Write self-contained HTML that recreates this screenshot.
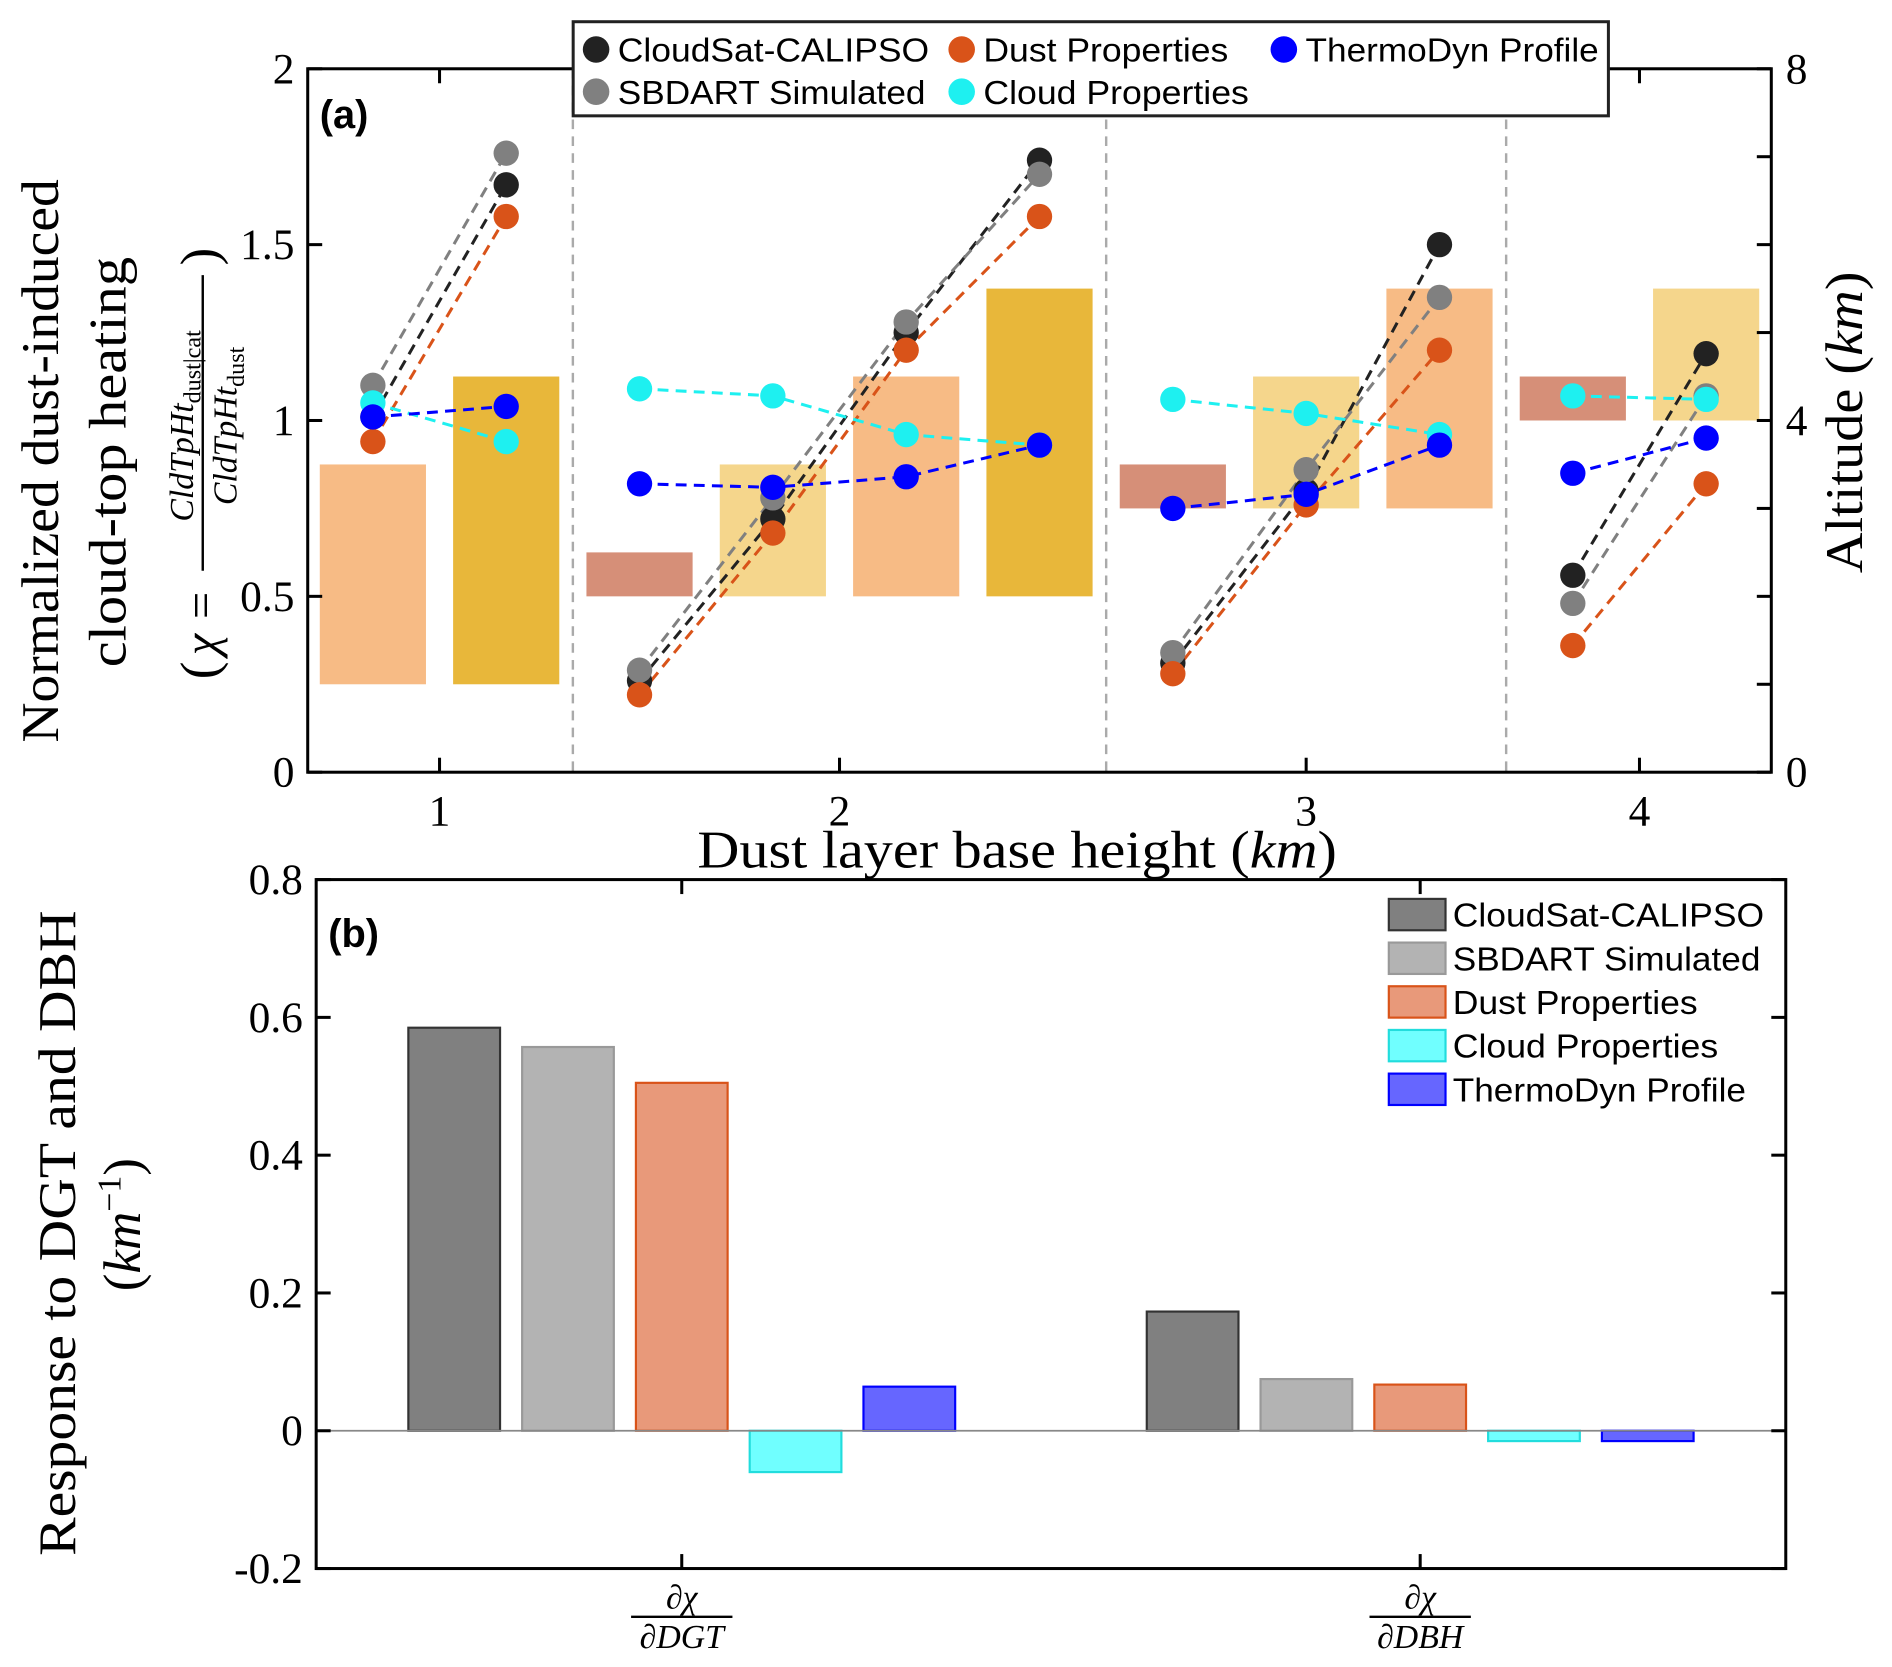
<!DOCTYPE html>
<html><head><meta charset="utf-8"><style>
html,body{margin:0;padding:0;background:#fff}
svg{display:block}
.serif{font-family:"Liberation Serif",serif}
.sans{font-family:"Liberation Sans",sans-serif}
</style></head><body>
<svg id="chart" width="1892" height="1667" viewBox="0 0 1568 1381.6" xmlns="http://www.w3.org/2000/svg">
<g id="pa"></g>
<g id="pb"></g>
</svg>
<script>
// ---- Panel (a) data ----
const slotGroups = [0,0,1,1,1,1,2,2,2,3,3];
const groupLabels = ["1","2","3","4"];
const barBase = [1,1,2,2,2,2,3,3,3,4,4];
const barTop = [3.5,4.5,2.5,3.5,4.5,5.5,3.5,4.5,5.5,4.5,5.5];
const barColors = ["#f7bb85","#e8b73a","#d68f78","#f5d68c","#f7bb85","#e8b73a","#d68f78","#f5d68c","#f7bb85","#d68f78","#f5d68c"];
const seriesNames = ["CloudSat-CALIPSO","SBDART Simulated","Dust Properties","Cloud Properties","ThermoDyn Profile"];
const seriesColors = ["#222222","#808080","#d95319","#1ef0f0","#0000ff"];
const blackVals = [1.01,1.67, 0.26,0.72,1.25,1.74, 0.31,0.80,1.50, 0.56,1.19];
const grayVals = [1.10,1.76, 0.29,0.78,1.28,1.70, 0.34,0.86,1.35, 0.48,1.07];
const orangeVals = [0.94,1.58, 0.22,0.68,1.20,1.58, 0.28,0.76,1.20, 0.36,0.82];
const cyanVals = [1.05,0.94, 1.09,1.07,0.96,0.93, 1.06,1.02,0.96, 1.07,1.06];
const blueVals = [1.01,1.04, 0.82,0.81,0.84,0.93, 0.75,0.79,0.93, 0.85,0.95];
const leftTicks = [0,0.5,1,1.5,2];
const leftTickLabels = ["0","0.5","1","1.5","2"];
const rightTicks = [0,1,2,3,4,5,6,7,8];
const rightTickLabels = {0:"0",4:"4",8:"8"};
// ---- Panel (b) data ----
const bCategories = ["DGT","DBH"];
const bNames = ["CloudSat-CALIPSO","SBDART Simulated","Dust Properties","Cloud Properties","ThermoDyn Profile"];
const bDGT = [0.585,0.557,0.505,-0.06,0.064];
const bDBH = [0.173,0.075,0.067,-0.015,-0.015];
const bFill = ["#808080","#b3b3b3","#e8997a","#70ffff","#6666ff"];
const bEdge = ["#333333","#999999","#d95319","#22dddd","#0000ff"];
const bTicks = [-0.2,0,0.2,0.4,0.6,0.8];
const bTickLabels = ["-0.2","0","0.2","0.4","0.6","0.8"];

const NS="http://www.w3.org/2000/svg";
function mk(parent,tag,attrs,text){const e=document.createElementNS(NS,tag);for(const k in attrs)e.setAttribute(k,attrs[k]);if(text!==undefined)e.textContent=text;parent.appendChild(e);return e;}

// Panel a
const pa=document.getElementById('pa');
const AX0=255,AX1=1468,AY0=57,AY1=640;
const xs=i=>309+110.5*i;
const yL=v=>AY1-(v/2)*(AY1-AY0);
const yR=v=>AY1-(v/8)*(AY1-AY0);
for(let i=0;i<barBase.length;i++){
  const b=mk(pa,'rect',{x:xs(i)-44,y:yR(barTop[i]),width:88,height:yR(barBase[i])-yR(barTop[i]),fill:barColors[i]});
  
  
}
[1.5,5.5,8.5].forEach(s=>{const l=mk(pa,'line',{x1:xs(s),x2:xs(s),y1:AY0,y2:AY1,stroke:'#aaa','stroke-width':2,'stroke-dasharray':'8,6'});

});
const allSeries=[blackVals,grayVals,orangeVals,cyanVals,blueVals];
allSeries.forEach((vals,si)=>{
  for(let g=0;g<groupLabels.length;g++){
    const idx=[];slotGroups.forEach((gg,i)=>{if(gg===g)idx.push(i);});
    const pts=idx.map(i=>xs(i)+','+yL(vals[i])).join(' ');
    const pl=mk(pa,'polyline',{points:pts,fill:'none',stroke:seriesColors[si],'stroke-width':2.5,'stroke-dasharray':'9,6'});
    
    
  }
});
allSeries.forEach((vals,si)=>{
  vals.forEach((v,i)=>{const c=mk(pa,'circle',{cx:xs(i),cy:yL(v),r:10.5,fill:seriesColors[si]});
  
  });
});
const axa=mk(pa,'rect',{x:AX0,y:AY0,width:AX1-AX0,height:AY1-AY0,fill:'none',stroke:'#000','stroke-width':2.5});


leftTicks.forEach((t,i)=>{
  mk(pa,'line',{x1:AX0,x2:AX0+12,y1:yL(t),y2:yL(t),stroke:'#000','stroke-width':2.5});
  const tl=mk(pa,'text',{x:AX0-11,y:yL(t)+12,'text-anchor':'end','font-size':36,class:'serif'},leftTickLabels[i]);
  
  
});
rightTicks.forEach(t=>{
  mk(pa,'line',{x1:AX1-12,x2:AX1,y1:yR(t),y2:yR(t),stroke:'#000','stroke-width':2.5});
  if(rightTickLabels[t]!==undefined){const tl=mk(pa,'text',{x:AX1+12,y:yR(t)+12,'font-size':36,class:'serif'},rightTickLabels[t]);
  
  }
});
groupLabels.forEach((lab,g)=>{
  const idx=[];slotGroups.forEach((gg,i)=>{if(gg===g)idx.push(i);});
  const cx=(xs(idx[0])+xs(idx[idx.length-1]))/2;
  mk(pa,'line',{x1:cx,x2:cx,y1:AY1-12,y2:AY1,stroke:'#000','stroke-width':2.5});
  mk(pa,'line',{x1:cx,x2:cx,y1:AY0,y2:AY0+12,stroke:'#000','stroke-width':2.5});
  const tl=mk(pa,'text',{x:cx,y:684,'text-anchor':'middle','font-size':36,class:'serif'},lab);
  
  
});
// legend a
const lg=mk(pa,'g',{});


mk(lg,'rect',{x:475,y:18,width:858,height:78,fill:'#fff',stroke:'#222','stroke-width':2.5});
const legPos=[[494,41],[494,76],[797,41],[797,76],[1064,41]];
const legLen=[258,255,203,220,243];
seriesNames.forEach((n,i)=>{
  const [x,y]=legPos[i];
  const e=mk(lg,'g',{});
  
  
  mk(e,'circle',{cx:x,cy:y,r:11,fill:seriesColors[i]});
  mk(e,'text',{x:x+18,y:y+10,'font-size':28,class:'sans',textLength:legLen[i],lengthAdjust:'spacingAndGlyphs'},n);
});
</script>
<script>
// static labels panel a
(function(){
const pa=document.getElementById('pa');
pa.insertAdjacentHTML('beforeend',`
<text x="265" y="106" font-size="33" font-weight="bold" class="sans">(a)</text>
<text x="578" y="719" font-size="44" textLength="530" lengthAdjust="spacingAndGlyphs" class="serif">Dust layer base height (<tspan font-style="italic">km</tspan>)</text>
<text transform="translate(48,382) rotate(-90)" font-size="44" text-anchor="middle" textLength="467" lengthAdjust="spacingAndGlyphs" class="serif">Normalized dust-induced</text>
<text transform="translate(104,383) rotate(-90)" font-size="44" text-anchor="middle" textLength="340" lengthAdjust="spacingAndGlyphs" class="serif">cloud-top heating</text>
<g transform="translate(168,378) rotate(-90)" class="serif">
<text x="-185" y="12" font-size="44">(</text>
<text x="-165" y="12" font-size="40" font-style="italic">χ</text>
<text x="-135" y="12" font-size="40">=</text>
<text x="25" y="-8" font-size="28" text-anchor="middle"><tspan font-style="italic">CldTpHt</tspan><tspan font-size="20" dy="6">dust|cat</tspan></text>
<line x1="-95" x2="150" y1="0" y2="0" stroke="#000" stroke-width="2"/>
<text x="25" y="28" font-size="28" text-anchor="middle"><tspan font-style="italic">CldTpHt</tspan><tspan font-size="20" dy="6">dust</tspan></text>
<text x="158" y="12" font-size="44">)</text>
</g>
<text transform="translate(1543,350) rotate(-90)" font-size="44" text-anchor="middle" textLength="250" lengthAdjust="spacingAndGlyphs" class="serif">Altitude (<tspan font-style="italic">km</tspan>)</text>
`);
})();
</script>
<script>
// Panel b
(function(){
const pb=document.getElementById('pb');
const BX0=262,BX1=1480,BY0=729,BY1=1300;
const yB=v=>BY1-(v+0.2)/1.0*(BY1-BY0);
const catX=[565,1177];
const xB=(c,i)=>catX[c]+(i-2)*94.3;
[bDGT,bDBH].forEach((vals,c)=>{
  vals.forEach((v,i)=>{
    const y=Math.min(yB(v),yB(0)),h=Math.abs(yB(v)-yB(0));
    const r=mk(pb,'rect',{x:xB(c,i)-38,y:y,width:76,height:h,fill:bFill[i],stroke:bEdge[i],'stroke-width':1.8});
    
    
  });
});
const zl=mk(pb,'line',{x1:BX0,x2:BX1,y1:yB(0),y2:yB(0),stroke:'#888','stroke-width':1.5});


const ax=mk(pb,'rect',{x:BX0,y:BY0,width:BX1-BX0,height:BY1-BY0,fill:'none',stroke:'#000','stroke-width':2.5});


bTicks.forEach((t,i)=>{
  mk(pb,'line',{x1:BX0,x2:BX0+12,y1:yB(t),y2:yB(t),stroke:'#000','stroke-width':2.5});
  mk(pb,'line',{x1:BX1-12,x2:BX1,y1:yB(t),y2:yB(t),stroke:'#000','stroke-width':2.5});
  const tl=mk(pb,'text',{x:BX0-11,y:yB(t)+12,'text-anchor':'end','font-size':36,class:'serif'},bTickLabels[i]);
  
  
});
catX.forEach((x,c)=>{
  mk(pb,'line',{x1:x,x2:x,y1:BY1-12,y2:BY1,stroke:'#000','stroke-width':2.5});
  mk(pb,'line',{x1:x,x2:x,y1:BY0,y2:BY0+12,stroke:'#000','stroke-width':2.5});
  const g=mk(pb,'g',{class:'serif'});
  
  
  mk(g,'text',{x:x,y:1333,'text-anchor':'middle','font-size':28,'font-style':'italic'},'∂χ');
  mk(g,'line',{x1:x-42,x2:x+42,y1:1340,y2:1340,stroke:'#000','stroke-width':2});
  mk(g,'text',{x:x,y:1366,'text-anchor':'middle','font-size':28,'font-style':'italic'},'∂'+bCategories[c]);
});
const lg=mk(pb,'g',{});


const bLen=[258,255,203,220,243];
bNames.forEach((n,i)=>{
  const y=758+36.2*i;
  const e=mk(lg,'g',{});
  
  
  mk(e,'rect',{x:1151,y:y-13,width:47,height:26,fill:bFill[i],stroke:bEdge[i],'stroke-width':1.8});
  mk(e,'text',{x:1204,y:y+10,'font-size':28,class:'sans',textLength:bLen[i],lengthAdjust:'spacingAndGlyphs'},n);
});
pb.insertAdjacentHTML('beforeend',`
<text x="272" y="785" font-size="33" font-weight="bold" class="sans">(b)</text>
<text transform="translate(62,1022) rotate(-90)" font-size="44" text-anchor="middle" textLength="535" lengthAdjust="spacingAndGlyphs" class="serif">Response to DGT and DBH</text>
<text transform="translate(116,1015) rotate(-90)" font-size="44" text-anchor="middle" class="serif">(<tspan font-style="italic">km</tspan><tspan font-size="28" dy="-16">−1</tspan><tspan dy="16">)</tspan></text>
`);
})();
</script>
</body></html>
